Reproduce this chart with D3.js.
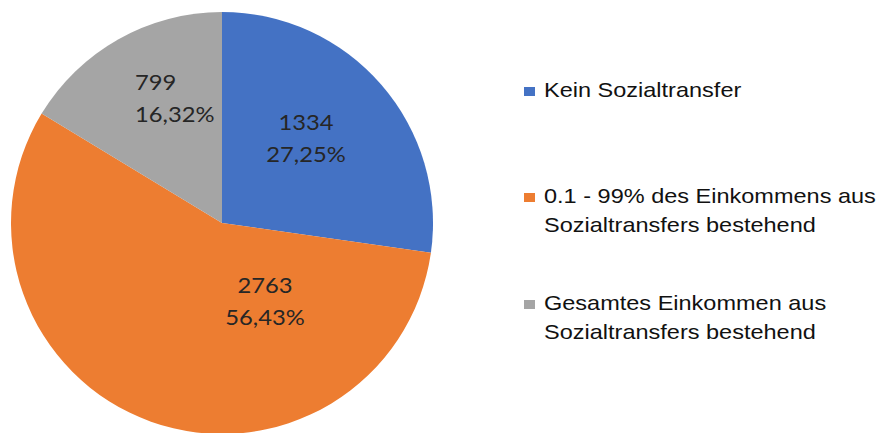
<!DOCTYPE html>
<html>
    <head>
        <meta charset="utf-8">
        <title></title>
        <script src="https://d3js.org/d3.v7.min.js"></script>
        <style>
            body { margin: 0; background: #fff; }
        </style>
    </head>

    <body>
        <svg id="chart" width="881" height="433"></svg>
    </body>

    <script>
        // data
        var categories = ["Kein Sozialtransfer",
            "0.1 - 99% des Einkommens aus Sozialtransfers bestehend",
            "Gesamtes Einkommen aus Sozialtransfers bestehend"]
        var values = [1334, 2763, 799]
        var legendLines = [["Kein Sozialtransfer"],
            ["0.1 - 99% des Einkommens aus", "Sozialtransfers bestehend"],
            ["Gesamtes Einkommen aus", "Sozialtransfers bestehend"]]
        var colors = ["#4472C4", "#ED7D31", "#A5A5A5"]

        // label placement, relative to the radius (excel "best fit" look)
        var labelPos = [[0.398, -0.441, "middle"], [0.204, 0.332, "middle"], [-0.412, -0.630, "start"]]

        var cx = 222, cy = 223, radius = 211

        var svg = d3.select("#chart")

        var g = svg.append("g")
            .attr("transform", "translate(" + cx + "," + cy + ")")

        var pie = d3.pie().sort(null).value(function(d) { return d })
        var arcs = pie(values)
        var arc = d3.arc().innerRadius(0).outerRadius(radius)

        g.selectAll("path.slice")
            .data(arcs)
            .enter().append("path")
            .attr("class", "slice")
            .attr("fill", function(d, i) { return colors[i] })
            .attr("d", arc)

        var total = d3.sum(values)
        var fmtPct = function(v) { return d3.format(".2%")(v / total).replace(".", ",") }

        // data labels
        var lab = g.selectAll("g.lab")
            .data(arcs)
            .enter().append("g")
            .attr("class", "lab")
            .attr("transform", function(d, i) {
                return "translate(" + (labelPos[i][0] * radius) + "," + (labelPos[i][1] * radius) + ") scale(1.08,1)"
            })
            .style("font-family", "Lato, 'Open Sans', sans-serif")
            .style("font-size", "22px")
            .style("fill", "#262626")
            .attr("text-anchor", function(d, i) { return labelPos[i][2] })

        lab.append("text").text(function(d) { return d.data })
        lab.append("text").attr("y", 32).text(function(d) { return fmtPct(d.data) })

        // legend
        var legend = svg.append("g")
            .attr("transform", "translate(524,0)")

        var rowY = [97, 203, 310]

        var item = legend.selectAll("g.item")
            .data(categories)
            .enter().append("g")
            .attr("class", "item")
            .attr("transform", function(d, i) { return "translate(0," + rowY[i] + ")" })

        item.append("rect")
            .attr("x", 0)
            .attr("y", -10)
            .attr("width", 11)
            .attr("height", 9)
            .attr("fill", function(d, i) { return colors[i] })

        item.append("g")
            .attr("transform", "translate(20,0) scale(1.12,1)")
            .style("font-family", "'Liberation Sans', Arial, sans-serif")
            .style("font-size", "21px")
            .style("fill", "#111")
            .each(function(d, i) {
                var t = d3.select(this)
                legendLines[i].forEach(function(line, j) {
                    t.append("text").attr("y", j * 29).text(line)
                })
            })
    </script>
</html>
